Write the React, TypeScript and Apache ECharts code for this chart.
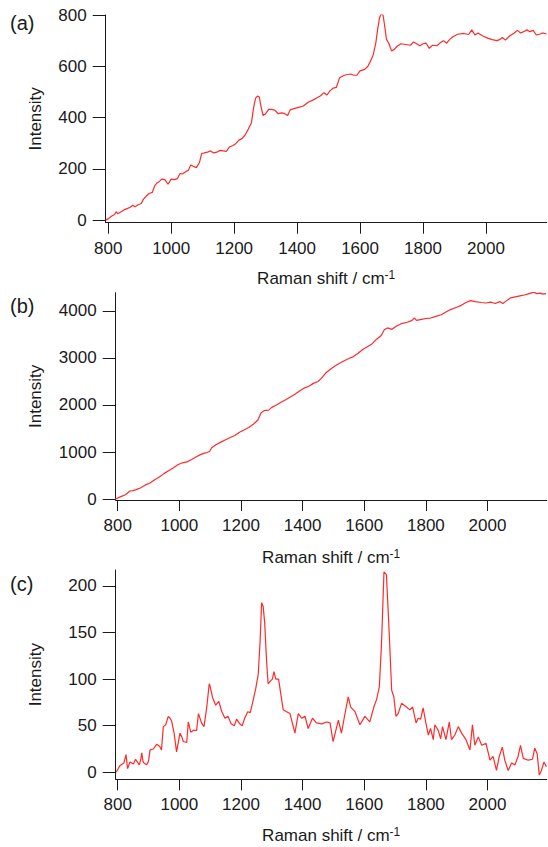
import React, { useEffect, useRef } from "react";
import * as echarts from "echarts";

// Panel (a): SERS-like spectrum
const A_X = [792, 800, 810, 820, 826, 830, 840, 850, 860, 870, 878, 885, 895, 905, 912, 922, 930, 940, 948, 955, 962, 970, 980, 990, 1000, 1010, 1020, 1028, 1035, 1045, 1055, 1062, 1070, 1080, 1090, 1097, 1105, 1115, 1125, 1135, 1145, 1155, 1165, 1175, 1185, 1195, 1205, 1215, 1225, 1235, 1245, 1255, 1262, 1268, 1274, 1280, 1286, 1292, 1300, 1310, 1320, 1330, 1340, 1350, 1360, 1370, 1378, 1390, 1405, 1420, 1435, 1450, 1465, 1475, 1485, 1495, 1505, 1515, 1525, 1535, 1550, 1560, 1570, 1580, 1590, 1600, 1615, 1625, 1635, 1642, 1650, 1656, 1662, 1668, 1673, 1678, 1684, 1692, 1700, 1708, 1718, 1730, 1745, 1760, 1770, 1780, 1790, 1800, 1810, 1820, 1830, 1845, 1855, 1865, 1875, 1885, 1895, 1910, 1930, 1945, 1955, 1965, 1975, 1990, 2005, 2020, 2035, 2045, 2052, 2062, 2075, 2090, 2100, 2110, 2120, 2130, 2140, 2150, 2160, 2170, 2180, 2192];
const A_Y = [0, 5, 15, 22, 33, 25, 32, 40, 45, 50, 58, 52, 60, 65, 82, 95, 104, 108, 135, 145, 150, 160, 158, 140, 160, 158, 162, 182, 180, 188, 195, 215, 210, 205, 225, 260, 262, 265, 270, 262, 265, 272, 270, 268, 285, 290, 298, 312, 318, 332, 355, 380, 440, 475, 484, 480, 440, 408, 415, 432, 432, 428, 415, 418, 416, 408, 430, 435, 440, 445, 460, 468, 478, 485, 497, 488, 505, 515, 518, 555, 565, 568, 570, 565, 565, 582, 588, 600, 625, 645, 690, 745, 790, 805, 800, 760, 705, 688, 660, 665, 678, 688, 685, 682, 695, 688, 680, 688, 690, 670, 682, 680, 692, 700, 690, 705, 715, 725, 728, 724, 742, 722, 730, 718, 710, 704, 700, 705, 712, 702, 718, 730, 740, 730, 735, 742, 735, 740, 722, 725, 730, 726];

// Panel (b): background-rich spectrum
const B_X = [792, 800, 810, 825, 840, 850, 860, 875, 890, 905, 920, 935, 950, 965, 980, 995, 1010, 1025, 1040, 1055, 1070, 1085, 1098, 1105, 1120, 1135, 1150, 1165, 1180, 1195, 1210, 1225, 1240, 1255, 1265, 1275, 1290, 1300, 1315, 1330, 1345, 1360, 1375, 1390, 1405, 1420, 1435, 1450, 1460, 1475, 1490, 1505, 1520, 1535, 1550, 1565, 1580, 1595, 1610, 1625, 1640, 1655, 1665, 1675, 1690, 1705, 1720, 1740, 1755, 1762, 1770, 1785, 1800, 1815, 1830, 1850, 1865, 1880, 1900, 1915, 1930, 1945, 1960, 1980, 1995, 2010, 2025, 2040, 2050, 2060, 2075, 2090, 2105, 2120, 2135, 2150, 2160, 2170, 2180, 2190];
const B_Y = [0, 20, 50, 90, 170, 180, 200, 240, 300, 340, 410, 470, 540, 600, 660, 730, 770, 790, 840, 900, 950, 980, 1010, 1090, 1160, 1210, 1260, 1310, 1350, 1420, 1470, 1520, 1590, 1680, 1830, 1880, 1890, 1950, 2000, 2060, 2110, 2170, 2230, 2300, 2360, 2400, 2460, 2500, 2560, 2680, 2760, 2830, 2890, 2940, 2990, 3030, 3100, 3180, 3240, 3300, 3400, 3480, 3600, 3640, 3610, 3680, 3730, 3760, 3800, 3850, 3800, 3820, 3840, 3850, 3880, 3920, 3980, 4030, 4080, 4120, 4180, 4220, 4200, 4180, 4170, 4190, 4160, 4200, 4160, 4210, 4280, 4300, 4320, 4340, 4370, 4400, 4370, 4380, 4360, 4370];

// Panel (c): difference spectrum
const C_X = [795, 807, 815, 820, 827, 832, 840, 851, 858, 864, 870, 875, 878, 882, 885, 894, 900, 905, 916, 926, 936, 942, 948, 956, 964, 970, 975, 983, 991, 1002, 1008, 1013, 1024, 1029, 1037, 1046, 1056, 1062, 1068, 1072, 1080, 1089, 1097, 1100, 1108, 1118, 1128, 1138, 1148, 1158, 1168, 1178, 1186, 1196, 1204, 1212, 1222, 1230, 1238, 1248, 1256, 1262, 1267, 1272, 1277, 1283, 1288, 1296, 1302, 1307, 1313, 1322, 1337, 1348, 1359, 1375, 1386, 1397, 1408, 1418, 1432, 1445, 1462, 1478, 1489, 1499, 1516, 1526, 1537, 1548, 1556, 1570, 1586, 1602, 1618, 1631, 1640, 1649, 1656, 1664, 1672, 1681, 1689, 1696, 1703, 1710, 1721, 1737, 1748, 1757, 1768, 1775, 1783, 1791, 1800, 1808, 1815, 1824, 1829, 1840, 1848, 1854, 1865, 1876, 1883, 1894, 1905, 1916, 1930, 1943, 1951, 1959, 1970, 1981, 1995, 2008, 2018, 2029, 2038, 2048, 2056, 2067, 2078, 2089, 2099, 2107, 2116, 2132, 2146, 2153, 2161, 2168, 2175, 2183, 2191];
const C_Y = [0, 7, 9, 10, 19, 4, 11, 9, 14, 11, 8, 14, 21, 12, 10, 8, 12, 24, 25, 30, 28, 24, 49, 51, 60, 58, 55, 42, 22, 42, 38, 33, 32, 54, 43, 45, 45, 63, 57, 53, 49, 70, 95, 92, 80, 72, 76, 65, 58, 60, 52, 50, 57, 52, 50, 58, 65, 64, 75, 90, 105, 140, 182, 178, 160, 120, 95, 98, 100, 108, 100, 100, 67, 65, 63, 42, 63, 58, 60, 47, 58, 53, 52, 54, 53, 33, 56, 42, 62, 81, 70, 65, 51, 60, 54, 70, 78, 92, 138, 215, 212, 149, 88, 81, 60, 63, 74, 70, 67, 70, 53, 58, 57, 69, 53, 40, 47, 35, 51, 45, 36, 49, 35, 54, 35, 40, 49, 42, 35, 24, 51, 29, 38, 29, 31, 13, 17, 2, 17, 27, 13, 2, 10, 8, 17, 29, 15, 13, 14, 26, 20, -3, 2, 11, 6];

const X_TICKS = [800, 1000, 1200, 1400, 1600, 1800, 2000];
const A_TICKS = [0, 200, 400, 600, 800];
const B_TICKS = [0, 1000, 2000, 3000, 4000];
const C_TICKS = [0, 50, 100, 150, 200];
const PANEL_LABELS = ["(a)", "(b)", "(c)"];
const X_NAME = "Raman shift / cm";
const X_NAME_SUP = "-1";
const Y_NAME = "Intensity";

const FONT = "'Liberation Sans', Arial, Helvetica, sans-serif";
const INK = "#1a1a1a";

function pairs(xs: number[], ys: number[]) {
  return xs.map((x, i) => [x, ys[i]]);
}

export default function App() {
  const ref = useRef<HTMLDivElement>(null);
  useEffect(() => {
    if (!ref.current) return;
    const chart = echarts.init(ref.current, undefined, { renderer: "svg" });
    const grids = [
      { left: 105.7, top: 15, width: 441, height: 207.7 },
      { left: 115.7, top: 292.7, width: 431, height: 207.3 },
      { left: 115.7, top: 570, width: 431, height: 209.3 },
    ];
    const yRanges = [
      { min: -10, max: 800, ticks: A_TICKS, gap: 62 },
      { min: -21, max: 4389, ticks: B_TICKS, gap: 72 },
      { min: -7.5, max: 217, ticks: C_TICKS, gap: 72 },
    ];
    const xRanges = [
      { min: 792, max: 2193, gap: 46 },
      { min: 793.5, max: 2192, gap: 48 },
      { min: 793.5, max: 2192, gap: 47 },
    ];
    const datas = [pairs(A_X, A_Y), pairs(B_X, B_Y), pairs(C_X, C_Y)];
    const axisLine = { show: true, onZero: false, lineStyle: { color: INK, width: 1 } };
    const fmt = (v: number) => String(v);
    const option: any = {
      animation: false,
      backgroundColor: "#ffffff",
      grid: grids.map((g) => ({ ...g, containLabel: false, outerBoundsMode: "none" })),
      xAxis: xRanges.map((r, i) => ({
        type: "value",
        gridIndex: i,
        min: r.min,
        max: r.max,
        axisLine,
        axisTick: { show: true, length: 11, customValues: X_TICKS, lineStyle: { color: INK } },
        axisLabel: { customValues: X_TICKS, formatter: fmt, fontSize: 17, fontFamily: FONT, color: INK, margin: 17 },
        splitLine: { show: false },
        name: `{m|${X_NAME}}{s|${X_NAME_SUP}}`,
        nameLocation: "middle",
        nameGap: r.gap,
        nameTextStyle: {
          rich: {
            m: { fontSize: 17, fontFamily: FONT, color: INK, lineHeight: 19 },
            s: { fontSize: 12, fontFamily: FONT, color: INK, verticalAlign: "top", lineHeight: 12 },
          },
        },
      })),
      yAxis: yRanges.map((r, i) => ({
        type: "value",
        gridIndex: i,
        min: r.min,
        max: r.max,
        axisLine,
        axisTick: { show: true, length: 13, customValues: r.ticks, lineStyle: { color: INK } },
        axisLabel: { customValues: r.ticks, formatter: fmt, fontSize: 17, fontFamily: FONT, color: INK, margin: 19 },
        splitLine: { show: false },
        name: Y_NAME,
        nameLocation: "middle",
        nameGap: r.gap,
        nameTextStyle: { fontSize: 17, fontFamily: FONT, color: INK },
      })),
      series: datas.map((d, i) => ({
        type: "line",
        xAxisIndex: i,
        yAxisIndex: i,
        data: d,
        showSymbol: false,
        symbol: "none",
        lineStyle: { color: "#ff2a2a", width: 1.2 },
        clip: true,
      })),
      graphic: PANEL_LABELS.map((t, i) => ({
        type: "text",
        x: 10,
        y: [23, 306, 584][i],
        style: { text: t, font: `20px ${FONT}`, fill: INK, textVerticalAlign: "middle" },
      })),
    };
    chart.setOption(option);
    return () => chart.dispose();
  }, []);
  return <div ref={ref} style={{ position: "absolute", left: 0, top: 0, width: 548, height: 847 }} />;
}
